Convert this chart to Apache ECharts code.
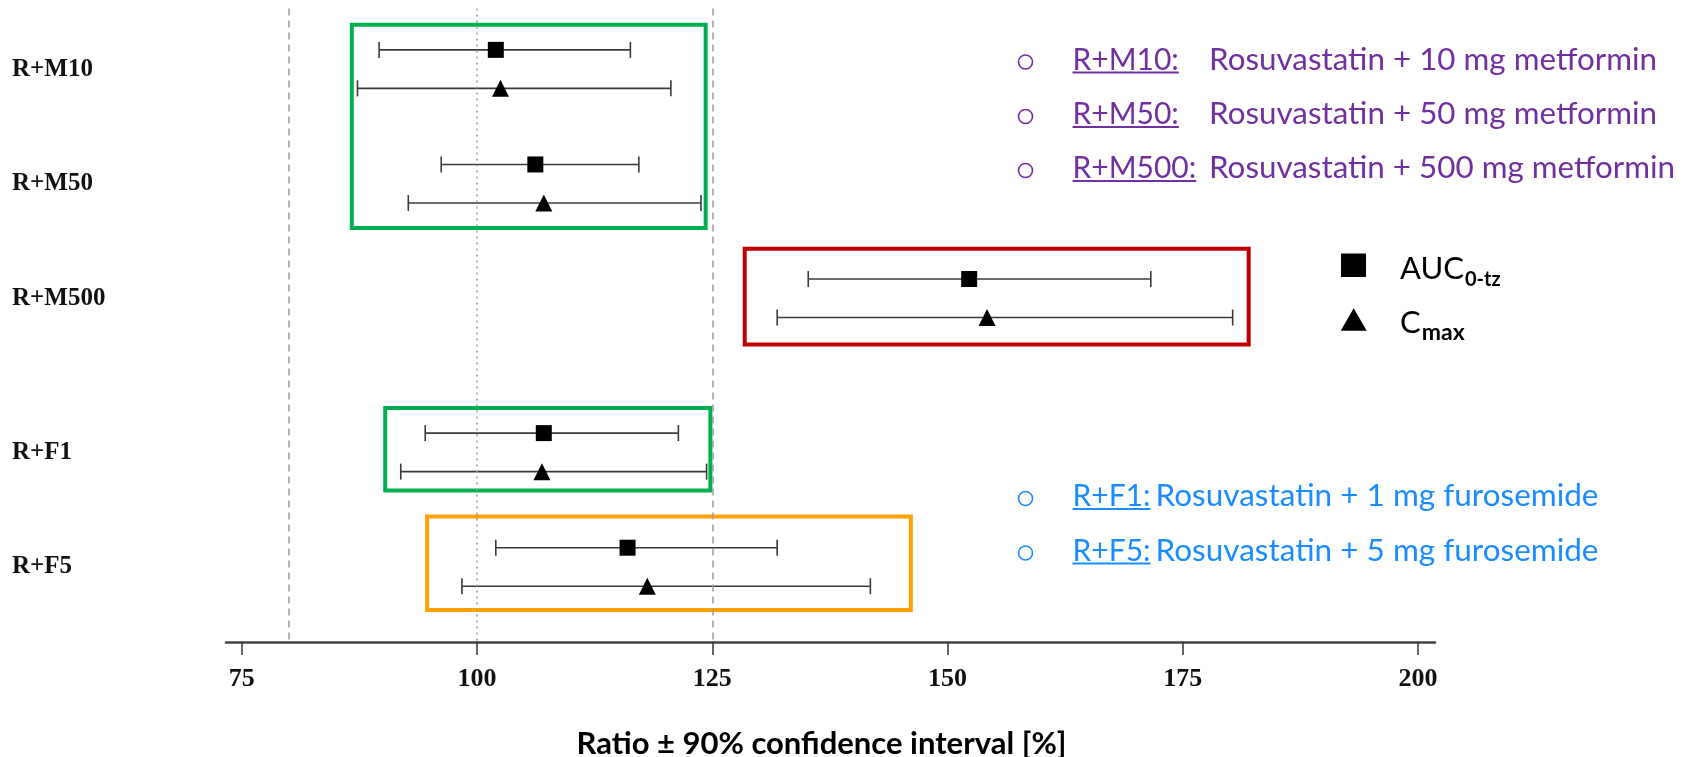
<!DOCTYPE html>
<html>
<head>
<meta charset="utf-8">
<title>Rosuvastatin ratio ± 90% CI</title>
<script src="https://cdn.jsdelivr.net/npm/echarts@6/dist/echarts.min.js"></script>
<style>
  html, body { margin: 0; padding: 0; background: #fff; }
  #main { width: 1686px; height: 757px; }
</style>
</head>
<body>
<div id="main"></div>
<script>
// groups, top to bottom
const groups = ['R+M10', 'R+M50', 'R+M500', 'R+F1', 'R+F5'];
// AUC0-tz ratio with 90% CI [%]
const aucRatio = [102.0, 106.2, 152.3, 107.1, 116.0];
const aucLow   = [89.6, 96.2, 135.2, 94.5, 102.0];
const aucHigh  = [116.3, 117.2, 171.6, 121.4, 131.9];
// Cmax ratio with 90% CI [%]
const cmaxRatio = [102.5, 107.1, 154.2, 106.9, 118.1];
const cmaxLow   = [87.3, 92.7, 131.9, 91.9, 98.4];
const cmaxHigh  = [120.6, 123.8, 180.3, 124.4, 141.8];
const xTicks = [75, 100, 125, 150, 175, 200];
const refLines = [80, 100, 125];

// layout: row position of each group on the y scale, and the AUC/Cmax split
const rowPos = [0, 1, 2, 3.345, 4.345];
const pairOffset = 0.168;

// coloured frames around the groups (axis units)
const frames = [
  { x: [86.7, 124.3], y: [-0.388, 1.386], color: '#00b050' },
  { x: [128.45, 182.0], y: [1.567, 2.404], color: '#c00000' },
  { x: [90.25, 124.8], y: [2.957, 3.678], color: '#00b050' },
  { x: [94.7, 146.1], y: [3.905, 4.72], color: '#ffa000' }
];

const purple = '#7030a0';
const blue = '#1a8cff';
const sans = 'Lato';

const ctx = document.createElement('canvas').getContext('2d');
function textW(str, size, weight) {
  ctx.font = (weight || 'normal') + ' ' + size + 'px ' + sans;
  return ctx.measureText(str).width;
}

// description lines on the right
const notes = [
  { label: 'R+M10:', text: 'Rosuvastatin + 10 mg metformin', base: 69, color: purple, tx: 1209, tw: 448 },
  { label: 'R+M50:', text: 'Rosuvastatin + 50 mg metformin', base: 123.5, color: purple, tx: 1209, tw: 448 },
  { label: 'R+M500:', text: 'Rosuvastatin + 500 mg metformin', base: 177.5, color: purple, tx: 1209, tw: 466 },
  { label: 'R+F1:', text: 'Rosuvastatin + 1 mg furosemide', base: 505.5, color: blue, tx: 1155.5, tw: 443 },
  { label: 'R+F5:', text: 'Rosuvastatin + 5 mg furosemide', base: 560, color: blue, tx: 1155.5, tw: 443 }
];

const noteSize = 30;
const graphics = [];
notes.forEach(n => {
  const mid = n.base - 0.3 * noteSize;
  graphics.push({ type: 'circle', shape: { cx: 1025.5, cy: n.base - 7, r: 7 },
    style: { fill: 'none', stroke: n.color, lineWidth: 1.6 } });
  graphics.push({ type: 'text', x: 1072.5, y: mid,
    style: { text: n.label, fontFamily: sans, fontSize: noteSize, fill: n.color, verticalAlign: 'middle' } });
  const lw = textW(n.label, noteSize);
  graphics.push({ type: 'line', shape: { x1: 1072.5, y1: n.base + 3.5, x2: 1072.5 + lw, y2: n.base + 3.5 },
    style: { stroke: n.color, lineWidth: 1.8 } });
  const w = textW(n.text, noteSize);
  graphics.push({ type: 'text', x: n.tx, y: mid, scaleX: n.tw / w,
    style: { text: n.text, fontFamily: sans, fontSize: noteSize, fill: n.color, verticalAlign: 'middle' } });
});

// marker key
graphics.push({ type: 'rect', shape: { x: 1341, y: 253.5, width: 25, height: 23.5 }, style: { fill: '#000' } });
graphics.push({ type: 'polygon', shape: { points: [[1340.7, 330.7], [1366.7, 330.7], [1353.7, 308.3]] }, style: { fill: '#000' } });
const keySize = 31, subSize = 20;
const aucW = textW('AUC', keySize), cW = textW('C', keySize);
graphics.push({ type: 'text', x: 1400, y: 278 - 0.3 * keySize,
  style: { text: 'AUC', fontFamily: sans, fontSize: keySize, fill: '#000', verticalAlign: 'middle' } });
graphics.push({ type: 'text', x: 1400 + aucW + 1, y: 285.5 - 0.3 * subSize,
  style: { text: '0-tz', fontFamily: sans, fontSize: subSize, fontWeight: 'bold', fill: '#000', verticalAlign: 'middle' } });
graphics.push({ type: 'text', x: 1400, y: 332.5 - 0.3 * keySize,
  style: { text: 'C', fontFamily: sans, fontSize: keySize, fill: '#000', verticalAlign: 'middle' } });
graphics.push({ type: 'text', x: 1400 + cW + 1, y: 339 - 0.3 * 23,
  style: { text: 'max', fontFamily: sans, fontSize: 23, fontWeight: 'bold', fill: '#000', verticalAlign: 'middle' } });

function errorBar(params, api) {
  const lo = api.coord([api.value(0), api.value(2)]);
  const hi = api.coord([api.value(1), api.value(2)]);
  const h = 8;
  const style = { stroke: '#3a3a3a', lineWidth: 1.6 };
  return {
    type: 'group',
    children: [
      { type: 'line', shape: { x1: lo[0], y1: lo[1], x2: hi[0], y2: hi[1] }, style: style },
      { type: 'line', shape: { x1: lo[0], y1: lo[1] - h, x2: lo[0], y2: lo[1] + h }, style: style },
      { type: 'line', shape: { x1: hi[0], y1: hi[1] - h, x2: hi[0], y2: hi[1] + h }, style: style }
    ]
  };
}

const aucBars = groups.map((g, i) => [aucLow[i], aucHigh[i], rowPos[i] - pairOffset]);
const cmaxBars = groups.map((g, i) => [cmaxLow[i], cmaxHigh[i], rowPos[i] + pairOffset]);

const refStyle = v => ({
  type: v === 100 ? [2, 4] : [7, 5], color: '#9a9a9a', width: 1.5
});

const chart = echarts.init(document.getElementById('main'));
chart.setOption({
  animation: false,
  backgroundColor: '#fff',
  grid: { left: 226, right: 251, top: 8.4, bottom: 115, outerBoundsMode: 'none', containLabel: false },
  xAxis: {
    type: 'value', min: 73.33, max: 201.8,
    axisLine: { show: true, onZero: false, lineStyle: { color: '#444', width: 2.5 } },
    axisTick: { show: true, customValues: xTicks, length: 13, lineStyle: { color: '#333', width: 1.5 } },
    axisLabel: { customValues: xTicks, margin: 24, fontFamily: 'Liberation Serif', fontWeight: 'bold', fontSize: 26, color: '#111' },
    splitLine: { show: false },
    name: 'Ratio ± 90% confidence interval [%]',
    nameLocation: 'middle', nameGap: 86,
    nameTextStyle: { fontFamily: sans, fontWeight: 'bold', fontSize: 31, color: '#000', padding: [0, 18, 0, 0] }
  },
  yAxis: {
    type: 'value', min: -0.53, max: 5.0, inverse: true,
    axisLine: { show: false }, axisTick: { show: false }, splitLine: { show: false },
    axisLabel: {
      customValues: rowPos,
      formatter: v => {
        let k = 0;
        rowPos.forEach((p, i) => { if (Math.abs(p - v) < Math.abs(rowPos[k] - v)) k = i; });
        return groups[k];
      },
      align: 'left', margin: 214,
      fontFamily: 'Liberation Serif', fontWeight: 'bold', fontSize: 25, color: '#111'
    }
  },
  graphic: graphics,
  series: [
    {
      type: 'custom', name: 'AUC CI', renderItem: errorBar, data: aucBars,
      encode: { x: [0, 1], y: 2 }, z: 2,
      markLine: {
        silent: true, symbol: 'none', label: { show: false },
        data: refLines.map(v => ({ xAxis: v, lineStyle: refStyle(v) }))
      },
      markArea: {
        silent: true,
        data: frames.map(f => [
          { xAxis: f.x[0], yAxis: f.y[0], itemStyle: { color: 'rgba(0,0,0,0)', borderColor: f.color, borderWidth: 4 } },
          { xAxis: f.x[1], yAxis: f.y[1] }
        ])
      }
    },
    {
      type: 'custom', name: 'Cmax CI', renderItem: errorBar, data: cmaxBars,
      encode: { x: [0, 1], y: 2 }, z: 2
    },
    {
      type: 'scatter', name: 'AUC0-tz', symbol: 'rect', symbolSize: 16, z: 5,
      itemStyle: { color: '#000', opacity: 1 },
      data: groups.map((g, i) => [aucRatio[i], rowPos[i] - pairOffset])
    },
    {
      type: 'scatter', name: 'Cmax', symbol: 'triangle', symbolSize: [17, 17], z: 5,
      itemStyle: { color: '#000', opacity: 1 },
      data: groups.map((g, i) => [cmaxRatio[i], rowPos[i] + pairOffset])
    }
  ]
});
</script>
</body>
</html>
